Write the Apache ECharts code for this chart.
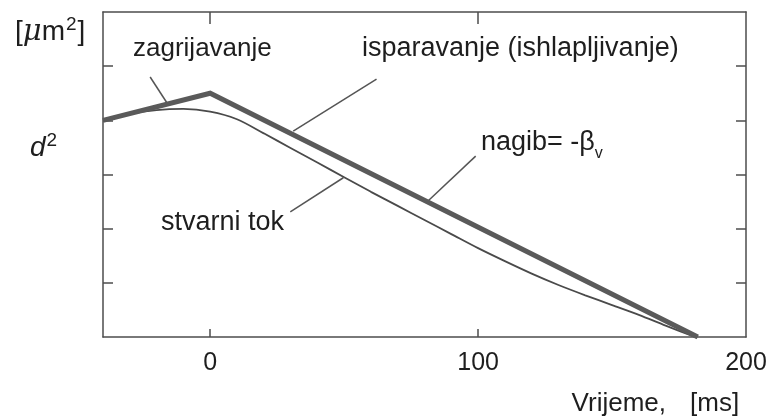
<!DOCTYPE html>
<html>
<head>
<meta charset="utf-8">
<title>d² – vrijeme</title>
<script src="https://cdn.jsdelivr.net/npm/echarts@6/dist/echarts.min.js"></script>
<style>
  html, body { margin: 0; padding: 0; background: #ffffff; }
  #chart { width: 771px; height: 419px; }
</style>
</head>
<body>
<div id="chart"></div>
<script>
// Idealized droplet history: linear heating, then linear d² decrease (slope -βv)
const idealTime = [-40, 0, 182];
const idealD2 = [4.0, 4.5, 0];

// Real droplet history (stvarni tok)
const realTime = [-40, -30, -20, -10, 0, 10, 20, 30, 40, 50, 60, 70, 80, 90, 100, 110, 120, 130, 140, 150, 160, 170, 181];
const realD2 = [4.00, 4.12, 4.19, 4.21, 4.16, 4.02, 3.76, 3.49, 3.22, 2.95, 2.68, 2.42, 2.16, 1.90, 1.64, 1.40, 1.17, 0.96, 0.77, 0.59, 0.41, 0.21, 0.00];

// Axis ticks and labels
const xLabelValues = [0, 100, 200];
const xTickValues = [0, 100];
const yTickValues = [1, 2, 3, 4, 5];

// Leader lines for the annotations, in data units [time, d²]
const leaders = [
  [[-22.4, 4.80], [-16.1, 4.32]],   // zagrijavanje
  [[62.1, 4.76], [31.0, 3.80]],     // isparavanje
  [[99.1, 3.34], [81.5, 2.52]],     // nagib
  [[29.9, 2.31], [49.7, 2.94]]      // stvarni tok
];

const FONT = '"Liberation Sans", Arial, sans-serif';
const INK = '#1e1e1e';
const LINE = '#5a5a5a';
const AXIS = '#4d4d4d';
const FS = 27;

const zip = (xs, ys) => xs.map((x, i) => [x, ys[i]]);

const chart = echarts.init(document.getElementById('chart'), null, { renderer: 'canvas' });

const tickStyle = { color: AXIS, width: 1.5 };
const frameAxis = (extra) => Object.assign({
  type: 'value',
  axisLine: { show: true, onZero: false, lineStyle: { color: AXIS, width: 1.5 } },
  splitLine: { show: false },
  axisLabel: { show: false },
}, extra);

chart.setOption({
  animation: false,
  backgroundColor: '#ffffff',
  grid: { left: 103, right: 25, top: 12, bottom: 82, containLabel: false },
  xAxis: [
    frameAxis({
      position: 'bottom', min: -40, max: 200,
      axisTick: { show: true, inside: true, length: 8, customValues: xTickValues, lineStyle: tickStyle },
      axisLabel: { show: true, customValues: xLabelValues, fontFamily: FONT, fontSize: 25, color: INK, margin: 14 }
    }),
    frameAxis({
      position: 'top', min: -40, max: 200,
      axisTick: { show: true, inside: true, length: 12, customValues: xTickValues, lineStyle: tickStyle }
    })
  ],
  yAxis: [
    frameAxis({
      position: 'left', min: 0, max: 6, interval: 1,
      axisTick: { show: true, inside: true, length: 10, customValues: yTickValues, lineStyle: tickStyle }
    }),
    frameAxis({
      position: 'right', min: 0, max: 6, interval: 1,
      axisTick: { show: true, inside: true, length: 10, customValues: yTickValues, lineStyle: tickStyle }
    })
  ],
  series: [
    {
      name: 'idealizirano', type: 'line', xAxisIndex: 0, yAxisIndex: 0,
      data: zip(idealTime, idealD2), showSymbol: false, symbol: 'none',
      lineStyle: { color: LINE, width: 5, join: 'miter' }, z: 3
    },
    {
      name: 'stvarni tok', type: 'line', xAxisIndex: 0, yAxisIndex: 0,
      data: zip(realTime, realD2), showSymbol: false, symbol: 'none', smooth: 0.3,
      lineStyle: { color: '#4a4a4a', width: 1.8 }, z: 2
    }
  ]
});

const px = (p) => chart.convertToPixel({ xAxisIndex: 0, yAxisIndex: 0 }, p);

const textEl = (x, y, text, rich, extra) => ({
  type: 'text', x: x, y: y, silent: true,
  style: Object.assign({
    text: text, fill: INK, fontSize: FS, fontFamily: FONT,
    align: 'left', verticalAlign: 'middle', rich: rich || {}
  }, extra || {})
});

const graphics = leaders.map((seg) => {
  const a = px(seg[0]);
  const b = px(seg[1]);
  return {
    type: 'line', silent: true,
    shape: { x1: a[0], y1: a[1], x2: b[0], y2: b[1] },
    style: { stroke: '#555555', lineWidth: 1.5 }
  };
});

graphics.push(
  textEl(133, 49, 'zagrijavanje', null, { fontSize: 26 }),
  textEl(362, 49, 'isparavanje (ishlapljivanje)'),
  textEl(481, 143, '{t|nagib= -β}{s|v}', {
    t: { fontSize: FS, fontFamily: FONT, fill: INK, verticalAlign: 'bottom' },
    s: { fontSize: 16, fontFamily: FONT, fill: INK, verticalAlign: 'bottom', padding: [0, 0, -5, 0] }
  }),
  textEl(161, 223, 'stvarni tok'),
  textEl(15, 31, '{b|[}{mu|μ}{b|m}{sup|2}{b|]}', {
    b: { fontSize: 28, fontFamily: FONT, fill: INK, verticalAlign: 'bottom' },
    mu: { fontSize: 29, fontFamily: '"DejaVu Serif", serif', fontStyle: 'italic', fill: INK, verticalAlign: 'bottom' },
    sup: { fontSize: 19, fontFamily: FONT, fill: INK, verticalAlign: 'top', padding: [0, 1, 12, 1] }
  }),
  textEl(30, 147, '{d|d}{sup|2}', {
    d: { fontSize: 28, fontFamily: FONT, fontStyle: 'italic', fill: INK, verticalAlign: 'bottom' },
    sup: { fontSize: 19, fontFamily: FONT, fill: INK, verticalAlign: 'top', padding: [0, 0, 12, 1] }
  }),
  textEl(666, 404, 'Vrijeme,', null, { align: 'right', fontSize: 26 }),
  textEl(690, 404, '[ms]', null, { fontSize: 26 })
);

chart.setOption({ graphic: graphics });
</script>
</body>
</html>
